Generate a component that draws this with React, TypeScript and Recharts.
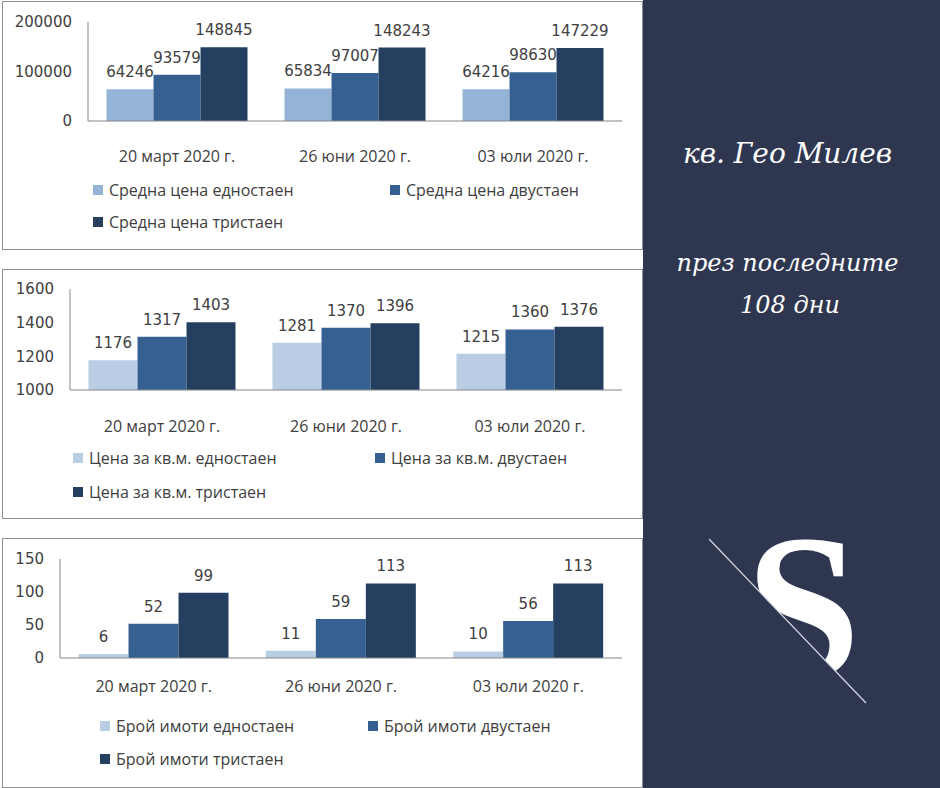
import React from 'react';
import { BarChart, Bar, XAxis, YAxis, Legend, LabelList } from 'recharts';

const categories = ['20 март 2020 г.', '26 юни 2020 г.', '03 юли 2020 г.'];

const priceNames = ['Средна цена едностаен', 'Средна цена двустаен', 'Средна цена тристаен'];
const priceOne = [64246, 65834, 64216];
const priceTwo = [93579, 97007, 98630];
const priceThree = [148845, 148243, 147229];
const priceTicks = [0, 100000, 200000];

const sqmNames = ['Цена за кв.м. едностаен', 'Цена за кв.м. двустаен', 'Цена за кв.м. тристаен'];
const sqmOne = [1176, 1281, 1215];
const sqmTwo = [1317, 1370, 1360];
const sqmThree = [1403, 1396, 1376];
const sqmTicks = [1000, 1200, 1400, 1600];

const countNames = ['Брой имоти едностаен', 'Брой имоти двустаен', 'Брой имоти тристаен'];
const countOne = [6, 11, 10];
const countTwo = [52, 59, 56];
const countThree = [99, 113, 113];
const countTicks = [0, 50, 100, 150];

const keys = ['one', 'two', 'three'];

const buildRows = (a: number[], b: number[], c: number[]) =>
  categories.map((name, i) => ({ name, one: a[i], two: b[i], three: c[i] }));

const NAVY = '#2f3750';
const TEXT = '#404040';
const AXIS = '#868686';

type PanelProps = {
  top: number;
  height: number;
  data: any[];
  names: string[];
  colors: string[];
  ticks: number[];
  yWidth: number;
  margin: { top: number; right: number; bottom: number; left: number };
  xTickMargin: number;
  legendX: number[];
  legendY: number[];
};

const ChartPanel = (p: PanelProps) => {
  const w = 639;
  const h = p.height - 2;
  // excel-style legend: two columns, third item wraps to second row
  const slots = [
    [p.legendX[0], p.legendY[0]],
    [p.legendX[1], p.legendY[0]],
    [p.legendX[0], p.legendY[1]],
  ];
  return (
    <div
      style={{
        position: 'absolute',
        left: 2,
        top: p.top,
        width: 641,
        height: p.height,
        border: '1px solid #8e8e8e',
        boxSizing: 'border-box',
        background: '#fff',
      }}
    >
      <BarChart
        width={w}
        height={h}
        data={p.data}
        margin={p.margin}
        barCategoryGap={18.5}
        barGap={0}
      >
        <XAxis
          dataKey="name"
          interval={0}
          height={30}
          tickSize={0}
          tickMargin={p.xTickMargin}
          axisLine={{ stroke: AXIS }}
          tick={{ fill: TEXT, fontSize: 16, fontFamily: 'Open Sans' }}
        />
        <YAxis
          domain={[p.ticks[0], p.ticks[p.ticks.length - 1]]}
          ticks={p.ticks}
          interval={0}
          width={p.yWidth}
          tickSize={0}
          tickMargin={16}
          axisLine={{ stroke: AXIS }}
          tick={{ fill: TEXT, fontSize: 15, fontFamily: 'DejaVu Sans' }}
        />
        <Legend
          verticalAlign="middle"
          align="center"
          layout="horizontal"
          wrapperStyle={{ left: 0, top: 0, width: w, height: h, pointerEvents: 'none' }}
          content={({ payload }: any) => (
            <div style={{ position: 'relative', width: w, height: h }}>
              {(payload || []).map((entry: any) => {
                const idx = p.names.indexOf(entry.value);
                if (idx < 0) return null;
                return (
                  <div
                    key={`leg-${idx}`}
                    style={{
                      position: 'absolute',
                      left: slots[idx][0],
                      top: slots[idx][1] - 11,
                      height: 22,
                      display: 'flex',
                      alignItems: 'center',
                      whiteSpace: 'nowrap',
                    }}
                  >
                    <span
                      style={{ width: 10, height: 10, background: p.colors[idx], display: 'inline-block' }}
                    />
                    <span style={{ marginLeft: 6, fontSize: 16, fontFamily: 'Open Sans', color: TEXT }}>
                      {entry.value}
                    </span>
                  </div>
                );
              })}
            </div>
          )}
        />
        {keys.map((k, i) => (
          <Bar key={k} dataKey={k} name={p.names[i]} fill={p.colors[i]} isAnimationActive={false}>
            <LabelList
              dataKey={k}
              position="top"
              offset={12}
              fill={TEXT}
              fontSize={15}
              fontFamily="DejaVu Sans"
            />
          </Bar>
        ))}
      </BarChart>
    </div>
  );
};

const App = () => {
  return (
    <div
      style={{
        position: 'absolute',
        left: 0,
        top: 0,
        width: 940,
        height: 788,
        background: '#fff',
        overflow: 'hidden',
        fontFamily: 'Open Sans',
      }}
    >
      <ChartPanel
        top={1}
        height={249}
        data={buildRows(priceOne, priceTwo, priceThree)}
        names={priceNames}
        colors={['#95b3d7', '#376092', '#243f60']}
        ticks={priceTicks}
        yWidth={85}
        margin={{ top: 20, right: 20, bottom: 98, left: 0 }}
        xTickMargin={30}
        legendX={[90, 387]}
        legendY={[188, 220]}
      />
      <ChartPanel
        top={269}
        height={250}
        data={buildRows(sqmOne, sqmTwo, sqmThree)}
        names={sqmNames}
        colors={['#b9cde5', '#376092', '#243f60']}
        ticks={sqmTicks}
        yWidth={67}
        margin={{ top: 19, right: 20, bottom: 98, left: 0 }}
        xTickMargin={31}
        legendX={[70, 372]}
        legendY={[188, 222]}
      />
      <ChartPanel
        top={538}
        height={250}
        data={buildRows(countOne, countTwo, countThree)}
        names={countNames}
        colors={['#b9cde5', '#376092', '#243f60']}
        ticks={countTicks}
        yWidth={57}
        margin={{ top: 20, right: 20, bottom: 99, left: 0 }}
        xTickMargin={23}
        legendX={[97, 365]}
        legendY={[187, 220]}
      />
      <div style={{ position: 'absolute', left: 643, top: 0, width: 297, height: 788, background: NAVY }}>
        <svg width={297} height={788} style={{ display: 'block' }}>
          <defs>
            <clipPath id="s-cut">
              <polygon points="-10,459.6 310,793.9 310,400 -10,400" />
            </clipPath>
          </defs>
          <text
            x={144.5}
            y={163}
            textAnchor="middle"
            fill="#fff"
            fontFamily="DejaVu Serif"
            fontStyle="italic"
            fontSize={28}
          >
            кв. Гео Милев
          </text>
          <text
            x={144.5}
            y={271}
            textAnchor="middle"
            fill="#fff"
            fontFamily="DejaVu Serif"
            fontStyle="italic"
            fontSize={24}
          >
            през последните
          </text>
          <text
            x={147}
            y={313}
            textAnchor="middle"
            fill="#fff"
            fontFamily="DejaVu Serif"
            fontStyle="italic"
            fontSize={24}
          >
            108 дни
          </text>
          <text
            x={160}
            y={677}
            textAnchor="middle"
            fill="#fff"
            fontFamily="Liberation Serif"
            fontWeight="bold"
            fontSize={207}
            clipPath="url(#s-cut)"
          >
            S
          </text>
          <line x1={66} y1={539} x2={223} y2={703} stroke="#d8dbe3" strokeWidth={1.2} />
        </svg>
      </div>
    </div>
  );
};

export default App;
